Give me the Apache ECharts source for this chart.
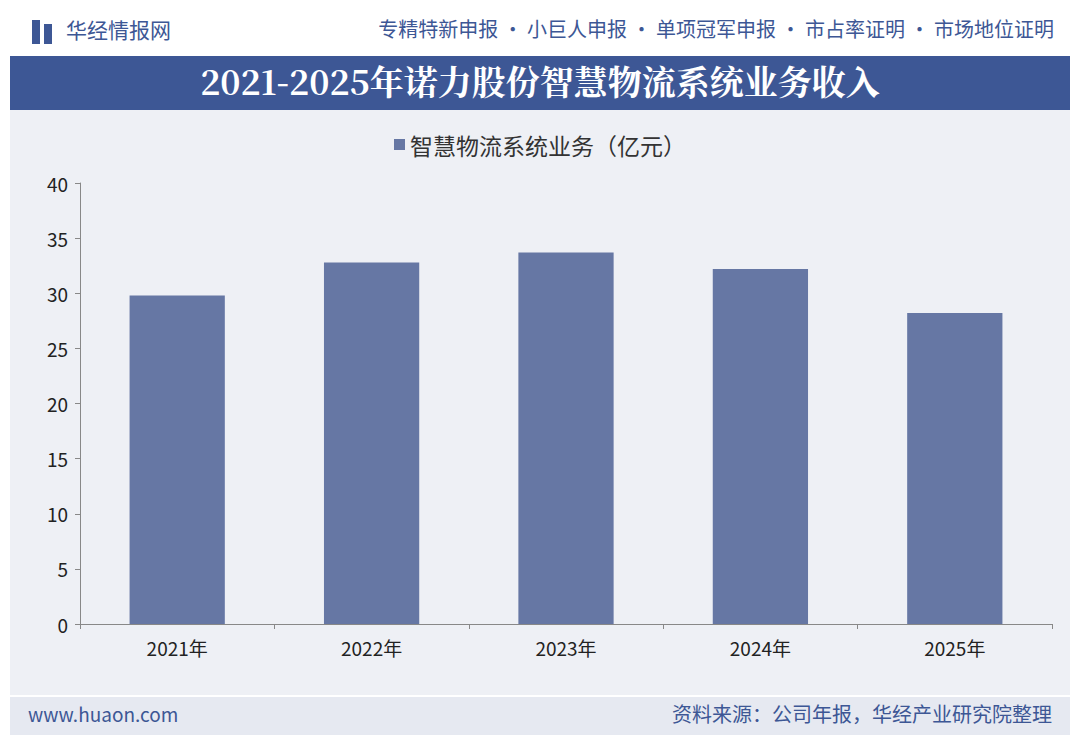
<!DOCTYPE html>
<html><head><meta charset="utf-8">
<script src="https://cdn.jsdelivr.net/npm/echarts@6/dist/echarts.min.js"></script>
<style>html,body{margin:0;padding:0;background:#fff}#chart{width:1080px;height:743px}</style>
</head><body><div id="chart"></div>
<script>
(function() {
  var years = ['2021年', '2022年', '2023年', '2024年', '2025年'];
  var values = [29.8, 32.8, 33.7, 32.2, 28.2];
  var barColor = '#6677a4';
  var font = '"Noto Sans CJK SC", sans-serif';

  var chart = echarts.init(document.getElementById('chart'), null, { renderer: 'svg' });
  chart.setOption({
    backgroundColor: '#ffffff',
    animation: false,
    graphic: [
      { type: 'rect', shape: { x: 10, y: 110, width: 1060, height: 585 }, style: { fill: '#eef0f5' }, z: -10 },
      { type: 'rect', shape: { x: 10, y: 56, width: 1060, height: 54 }, style: { fill: '#3d5795' } },
      { type: 'text', left: 'center', top: 63, style: { text: '2021-2025年诺力股份智慧物流系统业务收入', fill: '#fff', font: 'bold 34px "Noto Serif CJK SC", ' + font } },
      { type: 'rect', shape: { x: 32, y: 20, width: 8, height: 24 }, style: { fill: '#3d5795' } },
      { type: 'rect', shape: { x: 44, y: 24, width: 8, height: 20 }, style: { fill: '#3d5795' } },
      { type: 'text', left: 66, top: 18, style: { text: '华经情报网', fill: '#3d5795', font: '21px ' + font } },
      { type: 'text', right: 26, top: 18, style: { text: '专精特新申报 · 小巨人申报 · 单项冠军申报 · 市占率证明 · 市场地位证明', fill: '#3d5795', font: '20px ' + font } },
      { type: 'rect', shape: { x: 10, y: 697, width: 1060, height: 38 }, style: { fill: '#e6e9f1' } },
      { type: 'text', left: 28, top: 704, style: { text: 'www.huaon.com', fill: '#3d5795', font: '19px ' + font } },
      { type: 'text', right: 28, top: 703, style: { text: '资料来源：公司年报，华经产业研究院整理', fill: '#3d5795', font: '20px ' + font } }
    ],
    legend: {
      top: 128, left: 'center',
      itemWidth: 11, itemHeight: 11,
      icon: 'rect',
      textStyle: { fontSize: 23, color: '#333', fontFamily: font }
    },
    grid: { left: 80, right: 28, top: 183, bottom: 119 },
    xAxis: {
      type: 'category',
      data: years,
      axisLine: { lineStyle: { color: '#888' } },
      axisTick: { show: true, lineStyle: { color: '#888' } },
      axisLabel: { color: '#222', fontSize: 19, fontFamily: font, margin: 14 }
    },
    yAxis: {
      type: 'value', min: 0, max: 40, interval: 5,
      axisLine: { show: true, lineStyle: { color: '#888' } },
      axisTick: { show: true, lineStyle: { color: '#888' } },
      splitLine: { show: false },
      axisLabel: { color: '#222', fontSize: 19, fontFamily: font, margin: 12 }
    },
    series: [{
      name: '智慧物流系统业务（亿元）',
      type: 'bar',
      barWidth: '49%',
      itemStyle: { color: barColor },
      data: values
    }]
  });
})();
</script></body></html>
